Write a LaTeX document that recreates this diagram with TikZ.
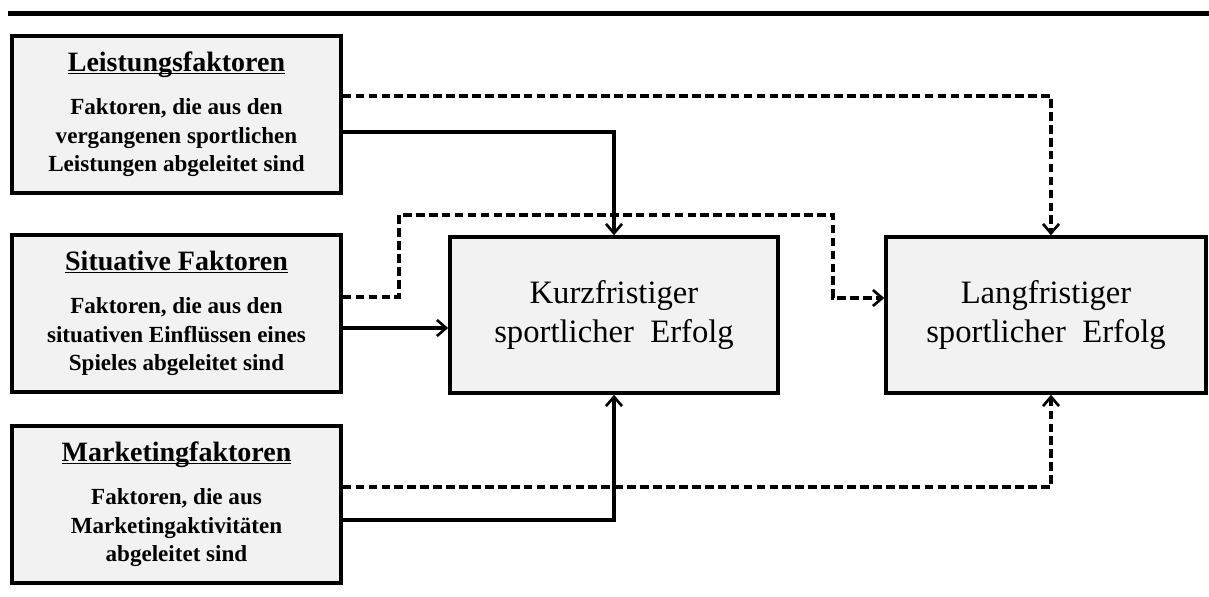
\documentclass[tikz,border=0pt]{standalone}
\usepackage{fontspec}
\setmainfont{Liberation Serif}
\usetikzlibrary{arrows.meta,calc}
\definecolor{boxfill}{HTML}{F2F2F2}
\newcommand\myul[1]{\leavevmode\setbox0\hbox{#1}\rlap{\rule[-2pt]{\wd0}{0.9pt}}\box0}
\tikzset{
  smallbox/.style={draw, line width=2.6pt, fill=boxfill, rectangle, inner sep=0pt,
    minimum width=246.75pt, minimum height=117.5pt, align=center,
    font=\bfseries\fontsize{17.3}{21.4}\selectfont},
  bigbox/.style={draw, line width=2.6pt, fill=boxfill, rectangle, inner sep=0pt,
    minimum width=246pt, minimum height=117pt, align=center,
    font=\fontsize{24.5}{29.5}\selectfont},
  sline/.style={line width=2.4pt},
  dline/.style={line width=2.4pt, dash pattern=on 6.5pt off 3.2pt},
  tip/.style={-{Straight Barb[length=7pt,width=12pt,line width=2pt]}},
}
\newcommand\ttl[1]{{\fontsize{21}{25}\selectfont\myul{#1}}\\[11pt]}
\begin{document}
\begin{tikzpicture}[x=0.75pt,y=-0.75pt]
\useasboundingbox (0,0) rectangle (1209,596);
\fill (8,10.5) rectangle (1209,15.5);
\node[smallbox] (L) at (176.5,114.5) {\ttl{Leistungsfaktoren}Faktoren, die aus den\\vergangenen sportlichen\\Leistungen abgeleitet sind};
\node[smallbox] (S) at (176.5,313.5) {\ttl{Situative Faktoren}Faktoren, die aus den\\situativen Einflüssen eines\\Spieles abgeleitet sind};
\node[smallbox] (M) at (176.5,504.5) {\ttl{Marketingfaktoren}Faktoren, die aus\\Marketingaktivitäten\\abgeleitet sind};
\node[bigbox] (K) at (614,315) {Kurzfristiger\\sportlicher\hspace{0.25em} Erfolg};
\node[bigbox, minimum width=240pt] (G) at (1046,315) {Langfristiger\\sportlicher\hspace{0.25em} Erfolg};
\coordinate (y96) at (0,96);
\coordinate (y132) at (0,132);
\coordinate (y297) at (0,297);
\coordinate (y328) at (0,328);
\coordinate (y487) at (0,487);
\coordinate (y520) at (0,520);
\coordinate (b1) at (399,215);
\coordinate (b2) at (833,298);
\coordinate (GN) at ($(G.north)+(5,0)$);
\coordinate (GS) at ($(G.south)+(5,0)$);
\draw[dline,tip] (L.east |- y96) -| (GN);
\draw[sline,tip] (L.east |- y132) -| (K.north);
\draw[dline,tip] (S.east |- y297) -| (b1) -| (b2) -- (G.west |- b2);
\draw[sline,tip] (S.east |- y328) -- (K.west |- y328);
\draw[dline,tip] (M.east |- y487) -| (GS);
\draw[sline,tip] (M.east |- y520) -| (K.south);
\end{tikzpicture}
\end{document}
